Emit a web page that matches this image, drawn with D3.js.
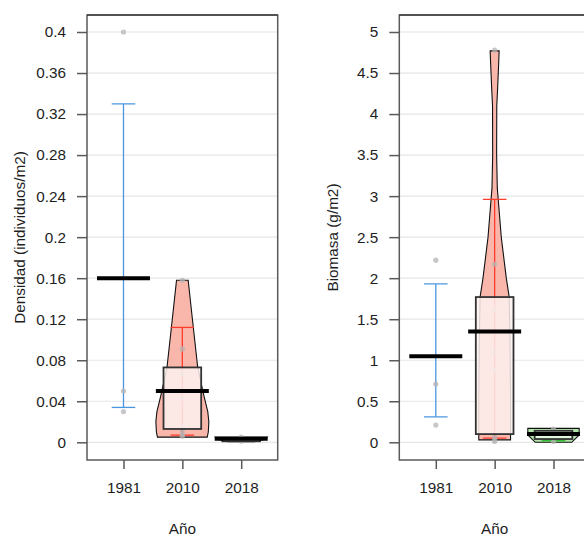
<!DOCTYPE html>
<html><head><meta charset="utf-8">
<script src="https://cdn.jsdelivr.net/npm/d3@7"></script>
<style>
html,body{margin:0;padding:0;background:#fff;}
svg{display:block;font-family:"Liberation Sans",Arial,sans-serif;}
</style></head>
<body>
<svg id="chart" width="584" height="535"></svg>
<script>
// ---- data ----
const years = ["1981", "2010", "2018"];

const densTicks = [0, 0.04, 0.08, 0.12, 0.16, 0.2, 0.24, 0.28, 0.32, 0.36, 0.4];
const densPoints = [
  [0.4, 0.05, 0.03],
  [0.158, 0.091, 0.067, 0.043, 0.015, 0.012, 0.008, 0.006],
  [0.005, 0.002, 0.001]
];
const densMean = [0.16, 0.05, 0.0035];
const densInfLow = [0.034, 0.007, 0.0009];
const densInfHigh = [0.33, 0.112, 0.0012];
const densBoxLow = [null, 0.013, 0.001];
const densBoxHigh = [null, 0.073, 0.004];
// violin profiles: [value, relative density]
const densViolin = [
  [],
  [[0.158, 0.22], [0.12, 0.38], [0.08, 0.55], [0.073, 0.58], [0.048, 0.79], [0.03, 0.96], [0.02, 1.0], [0.01, 0.98], [0.005, 0.94]],
  [[0.005, 0.98], [0.003, 0.9], [0.0005, 0.5]]
];

const biomTicks = [0, 0.5, 1, 1.5, 2, 2.5, 3, 3.5, 4, 4.5, 5];
const biomPoints = [
  [2.22, 0.71, 0.21],
  [4.78, 2.17, 1.62, 1.1, 0.88, 0.07, 0.03, 0.01],
  [0.16, 0.09, 0.01]
];
const biomMean = [1.05, 1.35, 0.1];
const biomInfLow = [0.31, 0.05, 0.02];
const biomInfHigh = [1.93, 2.96, 0.03];
const biomBoxLow = [null, 0.1, 0.04];
const biomBoxHigh = [null, 1.77, 0.14];
const biomViolin = [
  [],
  [[4.77, 0.17], [4.6, 0.15], [4.3, 0.11], [4.1, 0.08], [3.5, 0.075], [3.1, 0.1], [3.0, 0.125], [2.5, 0.25], [2.0, 0.44], [1.77, 0.55], [1.2, 0.58], [0.6, 0.6], [0.1, 0.6], [0.03, 0.6]],
  [[0.17, 0.97], [0.09, 0.97], [0.0, 0.69]]
];

const groupLine = ["#4b96e0", "#ff3b2e", "#2fbf2f"];
const violinFill = ["none", "#f9b7ab", "#b4e5ac"];
const boxFill = ["none", "rgba(253,241,239,0.85)", "rgba(236,250,233,0.85)"];

// ---- drawing ----
const svg = d3.select("#chart");
const textCol = "#1e1e1e";
const axisCol = "#5a5a5a";
const fs = "15.3px";

function panel(opt) {
  const g = svg.append("g");
  const x = d3.scaleLinear().domain([0.38, 3.62]).range([opt.left, opt.left + 190.7]);
  const y = d3.scaleLinear().domain([0, opt.tickMax]).range([442.3, 32]);
  const top = 15, bottom = 460;
  const right = opt.left + 190.7;

  // clip for panel
  const clipId = "clip" + opt.id;
  svg.append("clipPath").attr("id", clipId).append("rect")
    .attr("x", opt.left).attr("y", top).attr("width", right - opt.left).attr("height", bottom - top);

  // grid
  g.selectAll(".grid").data(opt.ticks).join("line")
    .attr("x1", opt.left).attr("x2", right)
    .attr("y1", d => y(d)).attr("y2", d => y(d))
    .attr("stroke", "#e6e6e6").attr("stroke-width", 1.2);

  const inner = g.append("g").attr("clip-path", `url(#${clipId})`);

  years.forEach((yr, i) => {
    const c = i + 1;
    // violin
    const prof = opt.violin[i];
    if (prof.length) {
      const wScale = d3.scaleLinear().domain([0, 1]).range([0, 0.45]);
      const area = d3.area()
        .x0(d => x(c - wScale(d[1])))
        .x1(d => x(c + wScale(d[1])))
        .y(d => y(d[0]));
      // build closed polygon
      const left = prof.map(d => [x(c - wScale(d[1])), y(d[0])]);
      const rightSide = prof.slice().reverse().map(d => [x(c + wScale(d[1])), y(d[0])]);
      const poly = left.concat(rightSide);
      inner.append("path")
        .attr("d", "M" + poly.map(p => p.join(",")).join("L") + "Z")
        .attr("fill", violinFill[i]).attr("stroke", "#111").attr("stroke-width", 1.1);
    }
    // inference (error) bar
    const lo = opt.infLow[i], hi = opt.infHigh[i];
    inner.append("line").attr("x1", x(c)).attr("x2", x(c)).attr("y1", y(lo)).attr("y2", y(hi))
      .attr("stroke", groupLine[i]).attr("stroke-width", 1.3);
    [lo, hi].forEach(v => {
      inner.append("line").attr("x1", x(c - 0.2)).attr("x2", x(c + 0.2)).attr("y1", y(v)).attr("y2", y(v))
        .attr("stroke", groupLine[i]).attr("stroke-width", 1.3);
    });
    // points
    inner.selectAll(null).data(opt.points[i]).join("circle")
      .attr("cx", x(c)).attr("cy", d => y(d)).attr("r", 2.6)
      .attr("fill", "#b4b4b4").attr("fill-opacity", 0.75);
    // box
    if (opt.boxLow[i] !== null) {
      inner.append("rect")
        .attr("x", x(c - 0.32)).attr("width", x(c + 0.32) - x(c - 0.32))
        .attr("y", y(opt.boxHigh[i])).attr("height", y(opt.boxLow[i]) - y(opt.boxHigh[i]))
        .attr("fill", boxFill[i]).attr("stroke", "#333").attr("stroke-width", 1.8);
    }
    // mean bar
    inner.append("line").attr("x1", x(c - 0.45)).attr("x2", x(c + 0.45))
      .attr("y1", y(opt.mean[i])).attr("y2", y(opt.mean[i]))
      .attr("stroke", "#000").attr("stroke-width", 4);
  });

  // frame
  g.append("rect").attr("x", opt.left).attr("y", top).attr("width", right - opt.left).attr("height", bottom - top)
    .attr("fill", "none").attr("stroke", axisCol).attr("stroke-width", 1.5);
  g.append("line").attr("x1", opt.left).attr("x2", right).attr("y1", top).attr("y2", top)
    .attr("stroke", "#222").attr("stroke-width", 1.2);

  // y axis
  const yAxis = d3.axisLeft(y).tickValues(opt.ticks).tickSize(10).tickPadding(11)
    .tickFormat(d => d3.format("~g")(d));
  const ya = g.append("g").attr("transform", `translate(${opt.left},0)`).call(yAxis);
  ya.select(".domain").remove();
  ya.selectAll(".tick line").attr("stroke", axisCol).attr("stroke-width", 1.5);
  ya.selectAll(".tick text").attr("fill", textCol).style("font-size", fs).style("font-family", '"Liberation Sans",Arial,sans-serif');

  // x axis
  const xAxis = d3.axisBottom(x).tickValues([1, 2, 3]).tickSize(9).tickPadding(13)
    .tickFormat(d => years[d - 1]);
  const xa = g.append("g").attr("transform", `translate(0,${bottom})`).call(xAxis);
  xa.select(".domain").remove();
  xa.selectAll(".tick line").attr("stroke", axisCol).attr("stroke-width", 1.5);
  xa.selectAll(".tick text").attr("fill", textCol).style("font-size", fs).style("font-family", '"Liberation Sans",Arial,sans-serif');

  // titles
  g.append("text").attr("x", x(2)).attr("y", 533.5).attr("text-anchor", "middle")
    .attr("fill", textCol).style("font-size", fs).text("Año");
  g.append("text").attr("transform", `translate(${opt.ytitleX},${(top + bottom) / 2}) rotate(-90)`)
    .attr("text-anchor", "middle").attr("fill", textCol).style("font-size", fs).text(opt.ytitle);
}

panel({
  id: "L", left: 87, tickMax: 0.4, ticks: densTicks,
  points: densPoints, mean: densMean, infLow: densInfLow, infHigh: densInfHigh,
  boxLow: densBoxLow, boxHigh: densBoxHigh, violin: densViolin,
  ytitle: "Densidad (individuos/m2)", ytitleX: 24.5
});
panel({
  id: "R", left: 399.3, tickMax: 5, ticks: biomTicks,
  points: biomPoints, mean: biomMean, infLow: biomInfLow, infHigh: biomInfHigh,
  boxLow: biomBoxLow, boxHigh: biomBoxHigh, violin: biomViolin,
  ytitle: "Biomasa (g/m2)", ytitleX: 337.5
});
</script>
</body></html>
